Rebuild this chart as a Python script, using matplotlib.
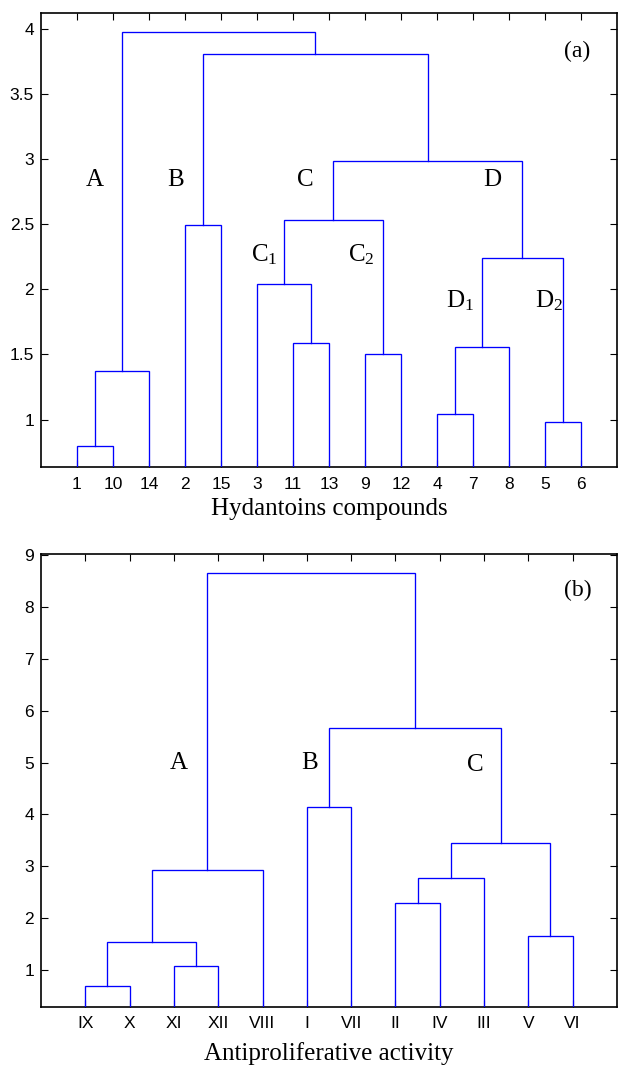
import matplotlib
matplotlib.use('agg')
import matplotlib.pyplot as plt
import numpy as np

plt.rcParams['font.family'] = ['Liberation Sans', 'DejaVu Sans']
plt.rcParams['mathtext.fontset'] = 'custom'
plt.rcParams['mathtext.rm'] = 'Liberation Serif'
plt.rcParams['mathtext.it'] = 'Liberation Serif:italic'

# (a) hydantoins compounds: leaf order and merges (left id, right id, height)
# ids 0..n-1 are leaves in display order, new clusters get n, n+1, ...
leaves_a = ["1", "10", "14", "2", "15", "3", "11", "13", "9", "12", "4", "7", "8", "5", "6"]
merges_a = [
    (0, 1, 0.795),
    (15, 2, 1.372),
    (3, 4, 2.495),
    (6, 7, 1.586),
    (5, 18, 2.045),
    (8, 9, 1.503),
    (19, 20, 2.536),
    (10, 11, 1.041),
    (22, 12, 1.555),
    (13, 14, 0.979),
    (23, 24, 2.240),
    (21, 25, 2.988),
    (17, 26, 3.807),
    (16, 27, 3.979),
]
groups_a = ["A", "B", "C", "D", "C$_{\\mathrm{1}}$", "C$_{\\mathrm{2}}$", "D$_{\\mathrm{1}}$", "D$_{\\mathrm{2}}$"]
groups_a_x = [1.48, 3.74, 7.35, 12.55, 6.2, 8.9, 11.65, 14.1]
groups_a_y = [2.84, 2.84, 2.84, 2.84, 2.27, 2.27, 1.91, 1.91]

# (b) antiproliferative activity
leaves_b = ["IX", "X", "XI", "XII", "VIII", "I", "VII", "II", "IV", "III", "V", "VI"]
merges_b = [
    (0, 1, 0.677),
    (2, 3, 1.079),
    (12, 13, 1.54),
    (14, 4, 2.93),
    (5, 6, 4.15),
    (7, 8, 2.29),
    (17, 9, 2.78),
    (10, 11, 1.65),
    (18, 19, 3.44),
    (16, 20, 5.67),
    (15, 21, 8.66),
]
groups_b = ["A", "B", "C"]
groups_b_x = [3.1, 6.07, 9.8]
groups_b_y = [5.0, 5.0, 4.95]


def draw_dendro(ax, leaves, merges):
    n = len(leaves)
    xpos = {i: i + 1.0 for i in range(n)}
    ypos = {i: 0.0 for i in range(n)}
    for k, (l, r, h) in enumerate(merges):
        xl, xr = xpos[l], xpos[r]
        ax.plot([xl, xl, xr, xr], [ypos[l], h, h, ypos[r]], color='#0000ff', lw=0.95,
                solid_joinstyle='miter', zorder=3)
        xpos[n + k] = (xl + xr) / 2.0
        ypos[n + k] = h
    ax.set_xticks(np.arange(1, n + 1))
    ax.set_xticklabels(leaves)
    ax.set_xlim(0, n + 1)


def style_axes(ax, xpad):
    ax.tick_params(direction='in', top=True, right=True, length=5, width=0.8,
                   labelsize=12.5)
    ax.tick_params(axis='x', pad=xpad)
    ax.tick_params(axis='y', pad=5)
    for s in ax.spines.values():
        s.set_linewidth(1.2)


fig = plt.figure(figsize=(6.18, 10.65), dpi=100)
ax1 = fig.add_axes([0.0663, 0.5615, 0.9320, 0.4263])
ax2 = fig.add_axes([0.0663, 0.0545, 0.9320, 0.4254])

draw_dendro(ax1, leaves_a, merges_a)
ax1.set_ylim(0.635, 4.125)
ax1.set_yticks([1, 1.5, 2, 2.5, 3, 3.5, 4])
ax1.set_yticklabels(["1", "1.5", "2", "2.5", "3", "3.5", "4"])
style_axes(ax1, 7.5)
ax1.set_xlabel("Hydantoins compounds", family='Liberation Serif', fontsize=18, va='baseline')
ax1.xaxis.set_label_coords(0.5, -0.1057)
for g, gx, gy in zip(groups_a, groups_a_x, groups_a_y):
    ax1.text(gx, gy, g, family='Liberation Serif', fontsize=18, ha='center', va='center')
ax1.text(14.9, 3.83, "(a)", family='Liberation Serif', fontsize=17, ha='center', va='center')

draw_dendro(ax2, leaves_b, merges_b)
ax2.set_ylim(0.28, 9.03)
ax2.set_yticks(np.arange(1, 10))
style_axes(ax2, 6.5)
ax2.set_xlabel("Antiproliferative activity", family='Liberation Serif', fontsize=18, va='baseline')
ax2.xaxis.set_label_coords(0.5, -0.117)
for g, gx, gy in zip(groups_b, groups_b_x, groups_b_y):
    ax2.text(gx, gy, g, family='Liberation Serif', fontsize=18, ha='center', va='center')
ax2.text(12.11, 8.32, "(b)", family='Liberation Serif', fontsize=17, ha='center', va='center')

fig.savefig("out.png", dpi=100)
